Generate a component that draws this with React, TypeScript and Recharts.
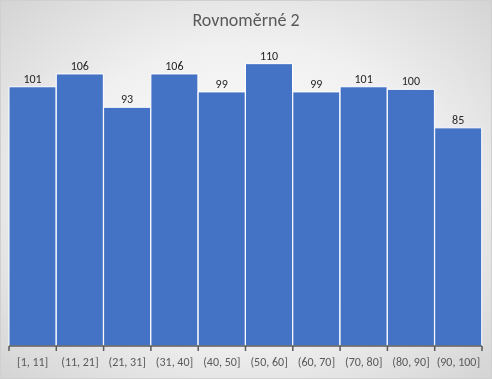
import React from "react";
import { Bar, BarChart, LabelList, XAxis, YAxis } from "recharts";

const bins = [
  "[1, 11]",
  "(11, 21]",
  "(21, 31]",
  "(31, 40]",
  "(40, 50]",
  "(50, 60]",
  "(60, 70]",
  "(70, 80]",
  "(80, 90]",
  "(90, 100]",
];
const counts = [101, 106, 93, 106, 99, 110, 99, 101, 100, 85];

const data = bins.map((bin, i) => ({ bin, count: counts[i] }));

const FONT = "Carlito, 'Open Sans', 'Noto Sans', sans-serif";

// label + tick marks on the bin boundaries, like Excel's histogram
const BinTick = (props: any) => {
  const { x, y, payload, index } = props;
  const half = payload.offset || 0;
  const axisY = y - 8;
  return (
    <g>
      <line x1={x - half} x2={x - half} y1={axisY} y2={axisY + 5} stroke="#595959" strokeWidth={1.5} />
      {index === bins.length - 1 && (
        <line x1={x + half} x2={x + half} y1={axisY} y2={axisY + 5} stroke="#595959" strokeWidth={1.5} />
      )}
      <text x={x} y={y + 9} textAnchor="middle" dominantBaseline="middle" fontSize={12} fill="#595959" fontFamily={FONT}>
        {payload.value}
      </text>
    </g>
  );
};

export default function App() {
  return (
    <div
      style={{
        position: "fixed",
        top: 0,
        left: 0,
        width: 492,
        height: 379,
        boxSizing: "border-box",
        border: "1px solid #d0d0d0",
        background: "radial-gradient(ellipse at center, #ffffff 0%, #f0f0f0 55%, #d4d4d4 100%)",
      }}
    >
      <div
        style={{
          position: "absolute",
          top: 8,
          width: "100%",
          textAlign: "center",
          fontFamily: FONT,
          fontSize: 18,
          fontWeight: 300,
          color: "#595959",
        }}
      >
        Rovnoměrné 2
      </div>
      <BarChart
        width={490}
        height={377}
        data={data}
        margin={{ top: 37, right: 9, left: 8, bottom: 0 }}
        barCategoryGap={0}
        style={{ position: "absolute", top: 0, left: 0 }}
      >
        <XAxis
          dataKey="bin"
          height={32}
          axisLine={{ stroke: "#595959", strokeWidth: 1.5 }}
          tickLine={false}
          tick={<BinTick />}
          interval={0}
        />
        <YAxis hide domain={[0, 120]} />
        <Bar dataKey="count" fill="#4472C4" stroke="#ffffff" strokeWidth={1} isAnimationActive={false}>
          <LabelList dataKey="count" position="top" offset={4} fontSize={12} fill="#262626" fontFamily={FONT} />
        </Bar>
      </BarChart>
    </div>
  );
}
